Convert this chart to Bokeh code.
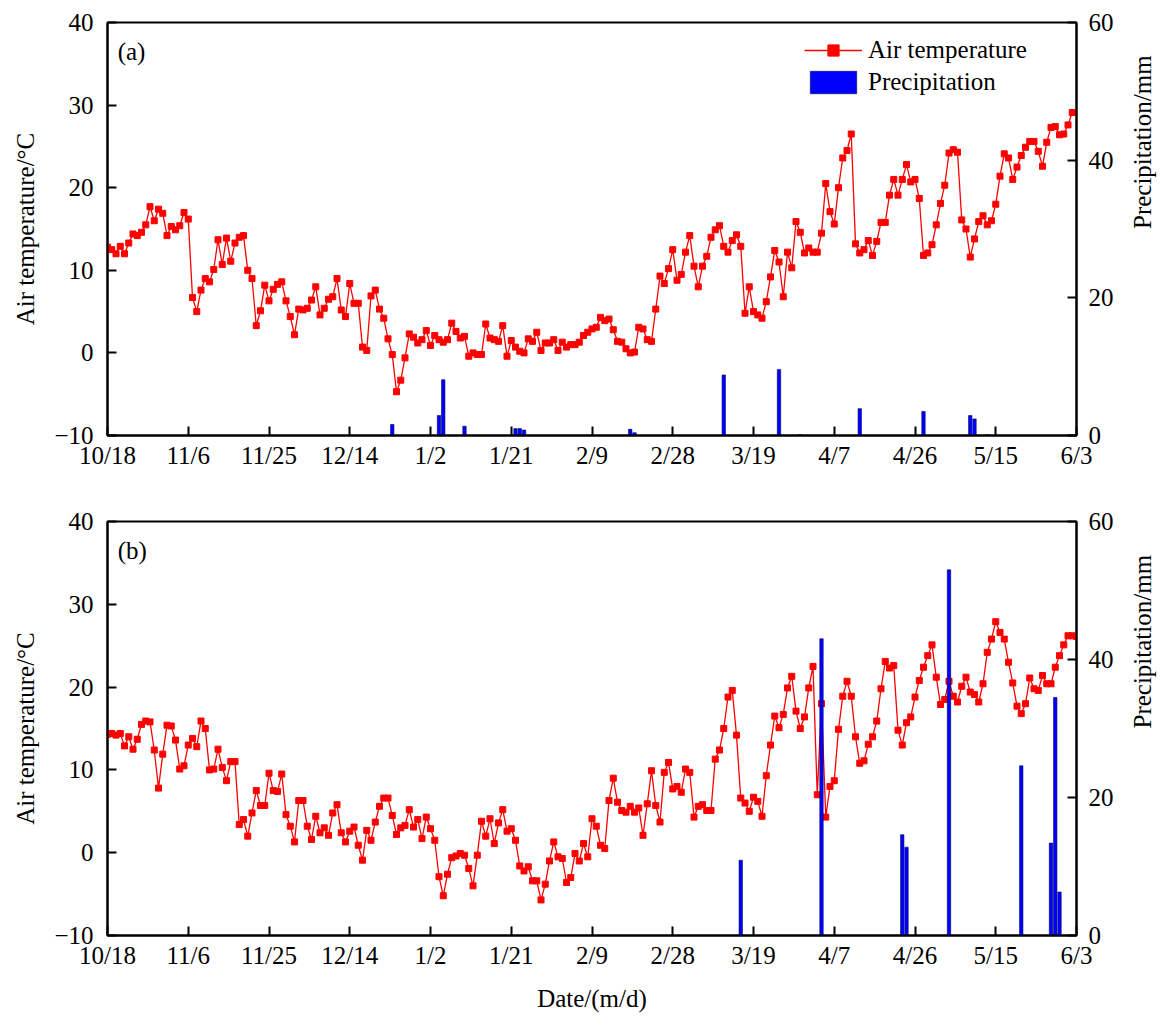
import math
from bokeh.plotting import figure
from bokeh.models import Range1d, LinearAxis, FixedTicker, Legend, LegendItem, Label
from bokeh.layouts import column
from bokeh.embed import file_html
from bokeh.resources import INLINE

FONT = "Liberation Serif"
FS = "25px"

date_ticks = [0, 19, 38, 57, 76, 95, 114, 133, 152, 171, 190, 209, 228]
date_labels = ["10/18", "11/6", "11/25", "12/14", "1/2", "1/21", "2/9",
               "2/28", "3/19", "4/7", "4/26", "5/15", "6/3"]
temp_ticks = [-10, 0, 10, 20, 30, 40]
prec_ticks = [0, 20, 40, 60]

days = list(range(229))

temp_a = [
    12.8, 12.5, 12.0, 12.9, 12.0, 13.3, 14.4, 14.2, 14.6, 15.5,
    17.7, 16.0, 17.4, 16.9, 14.2, 15.3, 14.9, 15.4, 17.0, 16.2,
    6.7, 5.0, 7.6, 9.0, 8.6, 10.1, 13.7, 10.7, 13.9, 11.1,
    13.3, 14.0, 14.2, 10.0, 9.0, 3.3, 5.1, 8.2, 6.3, 7.7,
    8.3, 8.6, 6.3, 4.4, 2.2, 5.3, 5.2, 5.4, 6.4, 8.0,
    4.6, 5.4, 6.5, 6.8, 9.0, 5.2, 4.4, 8.4, 6.0, 6.0,
    0.7, 0.3, 6.9, 7.6, 5.3, 4.2, 1.7, -0.2, -4.7, -3.3,
    -0.6, 2.3, 1.9, 1.2, 1.6, 2.7, 0.9, 2.1, 1.6, 1.3,
    1.6, 3.6, 2.6, 1.8, 2.0, -0.4, 0.0, -0.2, -0.2, 3.5,
    1.8, 1.6, 1.4, 3.3, -0.4, 1.5, 0.7, 0.2, 0.0, 1.7,
    1.4, 2.5, 0.3, 1.2, 1.2, 1.6, 0.3, 1.3, 0.7, 1.0,
    1.0, 1.3, 2.1, 2.5, 2.9, 3.1, 4.3, 3.9, 4.1, 2.8,
    1.4, 1.3, 0.5, 0.0, 0.1, 3.1, 2.9, 1.6, 1.4, 5.3,
    9.3, 8.4, 10.2, 12.5, 8.8, 9.5, 12.2, 14.2, 10.5, 8.0,
    10.5, 11.7, 14.0, 14.9, 15.4, 12.9, 12.2, 13.6, 14.3, 12.9,
    4.8, 8.0, 5.0, 4.6, 4.2, 6.2, 9.2, 12.4, 11.0, 6.8,
    12.2, 10.3, 15.9, 14.6, 12.1, 12.7, 12.2, 12.2, 14.5, 20.5,
    17.1, 15.6, 20.0, 23.6, 24.5, 26.5, 13.2, 12.1, 12.5, 13.6,
    11.8, 13.5, 15.8, 15.8, 19.1, 21.0, 19.1, 21.0, 22.8, 20.7,
    21.0, 18.7, 11.8, 12.1, 13.1, 15.5, 18.1, 20.3, 24.2, 24.6,
    24.3, 16.1, 15.0, 11.6, 13.8, 15.9, 16.6, 15.5, 16.0, 18.0,
    21.4, 24.1, 23.6, 21.0, 22.5, 23.9, 24.9, 25.6, 25.6, 24.4,
    22.6, 25.5, 27.3, 27.4, 26.4, 26.5, 27.6, 29.1, 29.1,
]

prec_a_days = [67, 78, 79, 84, 96, 97, 98, 123, 124, 145, 158, 163, 177, 192, 203, 204, 207]
prec_a_vals = [1.6, 2.9, 8.1, 1.35, 1.0, 1.0, 0.8, 0.9, 0.4, 8.8, 9.6, 0.1, 3.9, 3.5, 2.9, 2.4, 0.1]

temp_b = [
    14.3, 14.4, 14.2, 14.4, 12.9, 14.0, 12.5, 13.7, 15.5, 15.9,
    15.8, 12.4, 7.8, 11.9, 15.4, 15.3, 13.6, 10.1, 10.5, 13.0,
    13.8, 12.8, 15.9, 15.0, 10.0, 10.1, 12.5, 10.3, 8.7, 11.0,
    11.0, 3.4, 4.0, 2.0, 4.8, 7.5, 5.7, 5.7, 9.6, 7.5,
    7.4, 9.5, 4.6, 3.2, 1.3, 6.3, 6.3, 3.2, 1.6, 4.4,
    2.4, 3.0, 2.1, 4.8, 5.8, 2.4, 1.3, 2.6, 3.1, 0.9,
    -0.9, 2.7, 1.5, 3.7, 5.6, 6.6, 6.6, 4.5, 2.2, 3.0,
    3.3, 5.2, 3.1, 4.0, 1.7, 4.3, 2.9, 1.5, -2.9, -5.2,
    -2.6, -0.6, -0.4, -0.1, -0.3, -1.9, -4.0, -0.3, 3.8, 2.0,
    4.1, 1.1, 3.6, 5.2, 2.6, 2.9, 1.5, -1.6, -2.2, -1.7,
    -3.4, -3.4, -5.7, -3.8, -1.0, 1.3, -0.5, -0.7, -3.6, -3.0,
    -0.1, -1.0, 1.1, -0.5, 4.1, 3.2, 0.9, 0.5, 6.3, 9.0,
    6.1, 5.1, 4.9, 5.6, 4.9, 5.4, 2.1, 5.9, 9.9, 5.7,
    3.7, 9.7, 10.9, 7.7, 8.0, 7.3, 10.1, 9.7, 4.3, 5.6,
    5.8, 5.1, 5.1, 11.3, 12.4, 15.0, 18.8, 19.6, 14.2, 6.6,
    6.0, 5.0, 6.7, 6.2, 4.4, 9.3, 13.0, 16.5, 15.1, 16.7,
    19.9, 21.3, 17.1, 15.0, 16.4, 19.9, 22.5, 7.0, 18.0, 4.3,
    8.0, 8.7, 14.9, 18.9, 20.7, 18.9, 14.0, 10.8, 11.1, 13.1,
    14.0, 15.9, 19.8, 23.1, 22.3, 22.6, 14.8, 13.0, 15.7, 16.4,
    18.8, 20.8, 22.4, 23.8, 25.1, 21.2, 17.9, 18.5, 20.7, 18.9,
    18.2, 20.1, 21.2, 19.4, 19.1, 18.2, 20.4, 24.2, 25.8, 27.9,
    26.6, 25.8, 23.0, 20.5, 17.7, 16.8, 18.0, 21.1, 19.8, 19.6,
    21.4, 20.4, 20.4, 22.4, 23.8, 25.1, 26.2, 26.2, 26.1,
]

prec_b_days = [149, 168, 187, 188, 198, 215, 222, 223, 224]
prec_b_vals = [10.9, 43.0, 14.6, 12.8, 53.0, 24.6, 13.4, 34.5, 6.3]


def style_axis(ax):
    ax.axis_line_width = 2
    ax.axis_line_color = "black"
    ax.major_tick_in = 9
    ax.major_tick_out = 0
    ax.major_tick_line_width = 2
    ax.major_tick_line_color = "black"
    ax.minor_tick_line_color = None
    ax.major_label_text_font = FONT
    ax.major_label_text_font_size = FS
    ax.major_label_text_color = "black"
    ax.axis_label_text_font = FONT
    ax.axis_label_text_font_size = FS
    ax.axis_label_text_font_style = "normal"
    ax.axis_label_text_color = "black"


def make_panel(temp, pdays, pvals, letter, height, btop, bbottom, xlabel, with_legend):
    p = figure(width=1172, height=height, output_backend="svg", toolbar_location=None,
               x_range=Range1d(0, 228), y_range=Range1d(-10, 40),
               min_border_left=107, min_border_right=94,
               min_border_top=btop, min_border_bottom=bbottom)
    p.extra_y_ranges = {"prec": Range1d(0, 60)}
    p.xgrid.visible = False
    p.ygrid.visible = False
    p.outline_line_color = "black"
    p.outline_line_width = 2
    p.background_fill_color = "white"
    p.border_fill_color = "white"

    p.xaxis.ticker = FixedTicker(ticks=date_ticks)
    p.xaxis.major_label_overrides = {d: l for d, l in zip(date_ticks, date_labels)}
    p.xaxis.major_label_standoff = 6
    if xlabel:
        p.xaxis.axis_label = xlabel
        p.xaxis.axis_label_standoff = 13
    p.yaxis.ticker = FixedTicker(ticks=temp_ticks)
    p.yaxis.axis_label = "Air temperature/°C"
    p.yaxis.major_label_standoff = 14
    p.yaxis.axis_label_standoff = 12
    style_axis(p.xaxis[0])
    style_axis(p.yaxis[0])

    rax = LinearAxis(y_range_name="prec", axis_label="Precipitation/mm",
                     ticker=FixedTicker(ticks=prec_ticks))
    rax.major_label_standoff = 12
    rax.axis_label_standoff = 26
    style_axis(rax)
    try:
        rax.axis_label_orientation = math.pi / 2
    except Exception:
        pass
    p.add_layout(rax, "right")

    lr = p.line(days, temp, line_color="#ff0000", line_width=1.3)
    sr = p.scatter(days, temp, marker="square", size=6, fill_color="#ff0000",
                   line_color="#ff0000")
    br = p.vbar(x=pdays, top=pvals, bottom=0, width=0.8, y_range_name="prec",
                fill_color="#0000ff", line_color="#000060", line_width=0.6)

    p.add_layout(Label(x=2.4, y=36.5, text=letter, text_font=FONT,
                       text_font_size=FS, text_baseline="middle", text_color="black"))

    if with_legend:
        leg = Legend(items=[LegendItem(label="Air temperature", renderers=[lr, sr]),
                            LegendItem(label="Precipitation", renderers=[br])],
                     location=(697, 339))
        leg.border_line_color = None
        leg.background_fill_alpha = 0
        leg.padding = 0
        leg.margin = 0
        leg.spacing = 4
        leg.glyph_width = 58
        leg.glyph_height = 28
        leg.label_standoff = 6
        leg.label_text_font = FONT
        leg.label_text_font_size = FS
        leg.label_text_color = "black"
        p.add_layout(leg)
    return p


pa = make_panel(temp_a, prec_a_days, prec_a_vals, "(a)", 495, 22, 60, None, True)
pb = make_panel(temp_b, prec_b_days, prec_b_vals, "(b)", 525, 26, 85, "Date/(m/d)", False)

layout = column(pa, pb, spacing=0)
open("out.html", "w").write(file_html(layout, INLINE))
